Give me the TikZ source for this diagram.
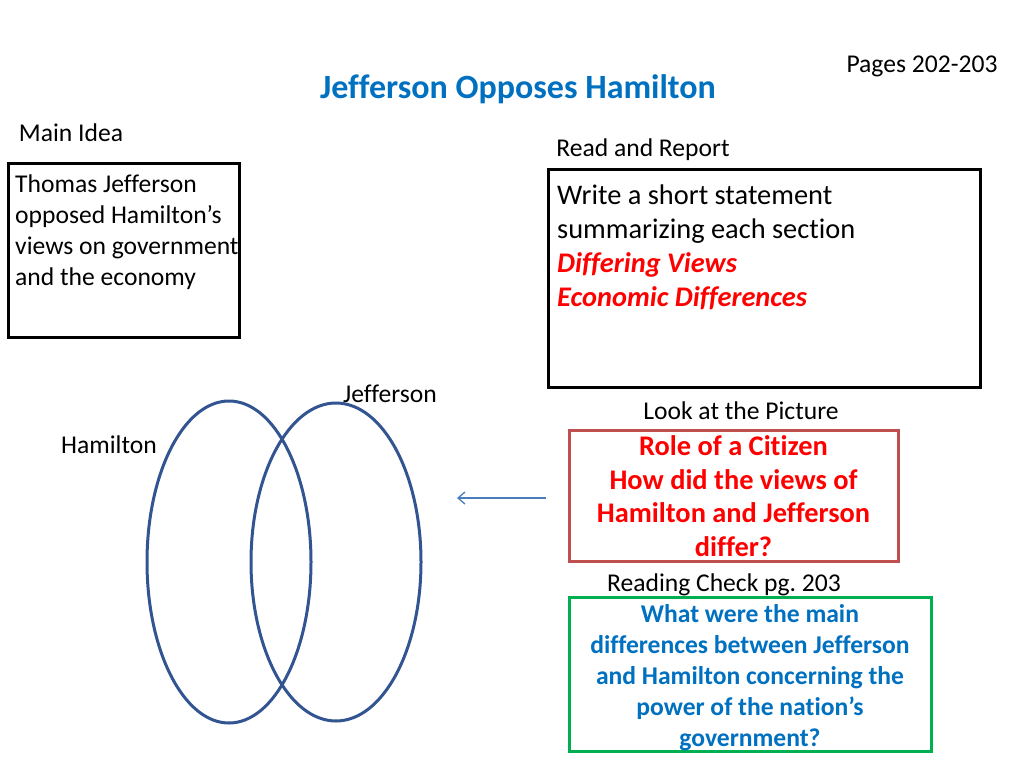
\documentclass[tikz,border=0pt]{standalone}
\usepackage{fontspec}
\setmainfont[Ligatures=CommonOff]{Carlito}
\usetikzlibrary{arrows.meta}
\definecolor{titleblue}{RGB}{0,112,192}
\definecolor{ellblue}{RGB}{50,85,145}
\definecolor{arrblue}{RGB}{74,126,187}
\definecolor{boxred}{RGB}{192,80,77}
\definecolor{boxgreen}{RGB}{0,176,80}
\definecolor{txtred}{RGB}{255,0,0}
\frenchspacing
\begin{document}
\begin{tikzpicture}[x=1pt,y=-1pt,
  fsa/.style={font=\fontsize{25.6}{30.7}\selectfont},
  fsb/.style={font=\fontsize{28.4}{34}\selectfont},
  lbl/.style={fsa,inner sep=0pt,anchor=center},
  txtblock/.style={inner sep=0pt,anchor=north west,align=left}
]
\useasboundingbox[fill=white] (0,0) rectangle (1024,768);

% labels
\node[lbl] (pages) at (922,66) {Pages 202-203};
\node[inner sep=0pt,font=\fontsize{34}{40}\selectfont\bfseries,text=titleblue] (title) at (518,89) {Jefferson Opposes Hamilton};
\node[lbl] (mainidea) at (71,133) {Main Idea};
\node[lbl] (readrep) at (643,150) {Read and Report};
\node[lbl] (jeff) at (390,394) {Jefferson};
\node[lbl] (look) at (741,411) {Look at the Picture};
\node[lbl] (ham) at (109,445) {Hamilton};
\node[lbl] (rcheck) at (724,585) {Reading Check pg. 203};

% main idea box
\node[draw=black,line width=3pt,minimum width=231pt,minimum height=174pt,inner sep=0pt] (mainbox) at (123.5,250) {};
\node[txtblock,fsa] (maintxt) at (15,175) {Thomas Jefferson\\opposed Hamilton’s\\views on government\\and the economy};

% read and report box
\node[draw=black,line width=3pt,minimum width=432pt,minimum height=218pt,inner sep=0pt] (readbox) at (764,278) {};
\node[txtblock,fsb] (readtxt) at (557,185) {Write a short statement\\summarizing each section\\{\color{txtred}\bfseries\itshape Differing Views}\\{\color{txtred}\bfseries\itshape Economic Differences}};

% role of a citizen box
\node[draw=boxred,line width=3pt,minimum width=329pt,minimum height=131pt,inner sep=0pt] (redbox) at (733.5,495.5) {};
\node[inner sep=0pt,align=center,font=\fontsize{28.4}{33.5}\selectfont\bfseries,text=txtred] (redtxt) at (733.5,496) {Role of a Citizen\\How did the views of\\Hamilton and Jefferson\\differ?};

% reading check box
\node[draw=boxgreen,line width=3pt,minimum width=362pt,minimum height=154pt,inner sep=0pt] (greenbox) at (750,674) {};
\node[inner sep=0pt,align=center,font=\fontsize{25.6}{31}\selectfont\bfseries,text=titleblue] (greentxt) at (750,678) {What were the main\\differences between Jefferson\\and Hamilton concerning the\\power of the nation’s\\government?};

% venn ellipses
\draw[ellblue,line width=3pt] (229,562) ellipse [x radius=82, y radius=161];
\draw[ellblue,line width=3pt] (336,562) ellipse [x radius=85, y radius=159];

% arrow
\coordinate (arrS) at (546,498);
\coordinate (arrE) at (457,498);
\draw[arrblue,line width=1.3pt,-{Straight Barb[length=7pt,width=12pt]}] (arrS) -- (arrE);
\end{tikzpicture}
\end{document}
